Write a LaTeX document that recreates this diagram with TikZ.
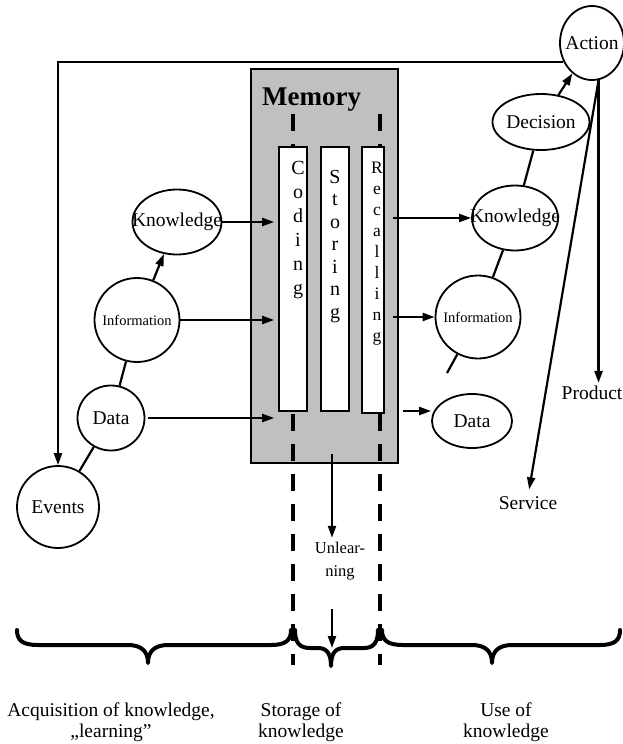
\documentclass[tikz,border=0pt]{standalone}
\usepackage{fontspec}
\setmainfont{Liberation Serif}
\usetikzlibrary{shapes.geometric,arrows.meta}
\definecolor{memgray}{HTML}{C0C0C0}
\begin{document}
\begin{tikzpicture}[x=1pt,y=-1pt,
  ell/.style={draw,ellipse,line width=1.8pt,inner sep=0pt,font=\fontsize{19.5}{23}\selectfont},
  small/.style={font=\fontsize{14.5}{17}\selectfont},
  conn/.style={line width=2.2pt},
  arr/.style={conn,-{Triangle[length=12pt,width=8pt]}},
  txt/.style={inner sep=0pt,font=\fontsize{19.5}{21}\selectfont,align=center},
  col/.style={draw,fill=white,line width=1.6pt,inner sep=0pt},
  letters/.style={inner sep=0pt,align=center,anchor=north},
  dsh/.style={line width=4pt,dash pattern=on 17pt off 13pt},
  brace/.style={line width=4pt,line cap=round,line join=round}]
\useasboundingbox (0,0) rectangle (623,744);

% memory box
\node[draw,fill=memgray,line width=1.6pt,inner sep=0pt,minimum width=147pt,minimum height=394pt] (mem) at (324.5,266) {};
\node[inner sep=0pt,anchor=base west,font=\bfseries\fontsize{27}{30}\selectfont] (memt) at (262,105) {Memory};

% dashed separators
\draw[dsh] (293,114) -- (293,665);
\draw[dsh] (380,114) -- (380,665);

% columns
\node[col,minimum width=28pt,minimum height=264pt] (cod) at (293,279) {};
\node[col,minimum width=28pt,minimum height=264pt] (sto) at (335,279) {};
\node[col,minimum width=22pt,minimum height=266pt] (rec) at (373,280) {};
\node[letters,font=\fontsize{20}{24}\selectfont] (codt) at (298,161) {C\\o\\d\\i\\n\\g};
\node[letters,font=\fontsize{20}{22.5}\selectfont] (stot) at (335,170) {S\\t\\o\\r\\i\\n\\g};
\node[letters,font=\fontsize{17.5}{21}\selectfont] (rect) at (377,162) {R\\e\\c\\a\\l\\l\\i\\n\\g};

% left chain
\node[ell,minimum width=82pt,minimum height=82pt] (EvL) at (58,507) {\makebox[0pt]{Events}};
\node[ell,minimum width=67pt,minimum height=65pt] (DataL) at (111,418) {\makebox[0pt]{Data}};
\node[ell,small,minimum width=85pt,minimum height=84pt] (InfoL) at (137,320) {\makebox[0pt]{Information}};
\node[ell,minimum width=89pt,minimum height=65pt] (KnowL) at (177,222) {\makebox[0pt]{Knowledge}};

% right chain
\node[ell,minimum width=64pt,minimum height=74pt] (Action) at (592,43) {\makebox[0pt]{Action}};
\node[ell,minimum width=97pt,minimum height=56pt] (Dec) at (541,122) {\makebox[0pt]{Decision}};
\node[ell,minimum width=86pt,minimum height=65pt] (KnowR) at (515,218) {\makebox[0pt]{Knowledge}};
\node[ell,small,minimum width=85pt,minimum height=83pt] (InfoR) at (478,317) {\makebox[0pt]{Information}};
\node[ell,minimum width=80pt,minimum height=54pt] (DataR) at (472,421) {\makebox[0pt]{Data}};

\node[txt] (serv) at (528,503) {Service};
\node[txt] (prod) at (592,393) {Product};

% left connectors
\draw[conn] (EvL) -- (DataL);
\draw[conn] (DataL) -- (InfoL);
\draw[arr] (InfoL) -- (KnowL);
\draw[arr,shorten >=4pt] (KnowL) -- (KnowL -| cod.west);
\draw[arr,shorten >=4pt] (InfoL) -- (InfoL -| cod.west);
\draw[arr,shorten >=4pt,shorten <=3pt] (DataL) -- (DataL -| cod.west);

% right connectors
\draw[arr,shorten <=8pt] (rec.east |- KnowR) -- (KnowR);
\draw[arr,shorten <=8pt] (rec.east |- InfoR) -- (InfoR);
\coordinate (d0) at (403,411);
\draw[arr] (d0) -- (d0 -| DataR.west);
\coordinate (dl) at (447,373);
\draw[conn] (dl) -- (InfoR);
\draw[conn] (InfoR) -- (KnowR);
\draw[conn] (KnowR) -- (Dec);
\draw[arr] (Dec) -- (Action);
\draw[arr,shorten >=7pt] (Action.-80) -- (serv.north);
\draw[arr,shorten >=3pt] (Action.-80) -- (Action.-80 |- prod.north);
\draw[arr] (Action.213) -| (EvL);

% unlearning
\coordinate (u0) at (332,454);
\node[txt,font=\fontsize{16.5}{23}\selectfont] (unl) at (340,561) {Unlear-\\ning};
\draw[arr,shorten >=4pt] (u0) -- (u0 |- unl.north);
\coordinate (u1) at (332,609);
\coordinate (bm) at (332,648);
\draw[arr] (u1) -- (bm);

% braces
\draw[brace] (17,630) .. controls (17,640) and (22,645) .. (38,645) -- (128,645)
  .. controls (141,645) and (148,651) .. (148,663)
  .. controls (148,651) and (155,645) .. (168,645) -- (271,645)
  .. controls (286,645) and (291,640) .. (291,630);
\draw[brace] (295,630) .. controls (295,642) and (299,648) .. (310,648) -- (318,648)
  .. controls (327,648) and (331,654) .. (331,666)
  .. controls (331,654) and (335,648) .. (344,648) -- (364,648)
  .. controls (374,648) and (378,642) .. (378,630);
\draw[brace] (382,630) .. controls (382,640) and (387,645) .. (403,645) -- (472,645)
  .. controls (485,645) and (492,651) .. (492,663)
  .. controls (492,651) and (499,645) .. (512,645) -- (600,645)
  .. controls (615,645) and (620,640) .. (620,630);

% bottom labels
\node[txt] (acq) at (111,722) {Acquisition of knowledge,\\„learning”};
\node[txt] (stor) at (301,722) {Storage of\\knowledge};
\node[txt] (use) at (506,722) {Use of\\knowledge};
\end{tikzpicture}
\end{document}
